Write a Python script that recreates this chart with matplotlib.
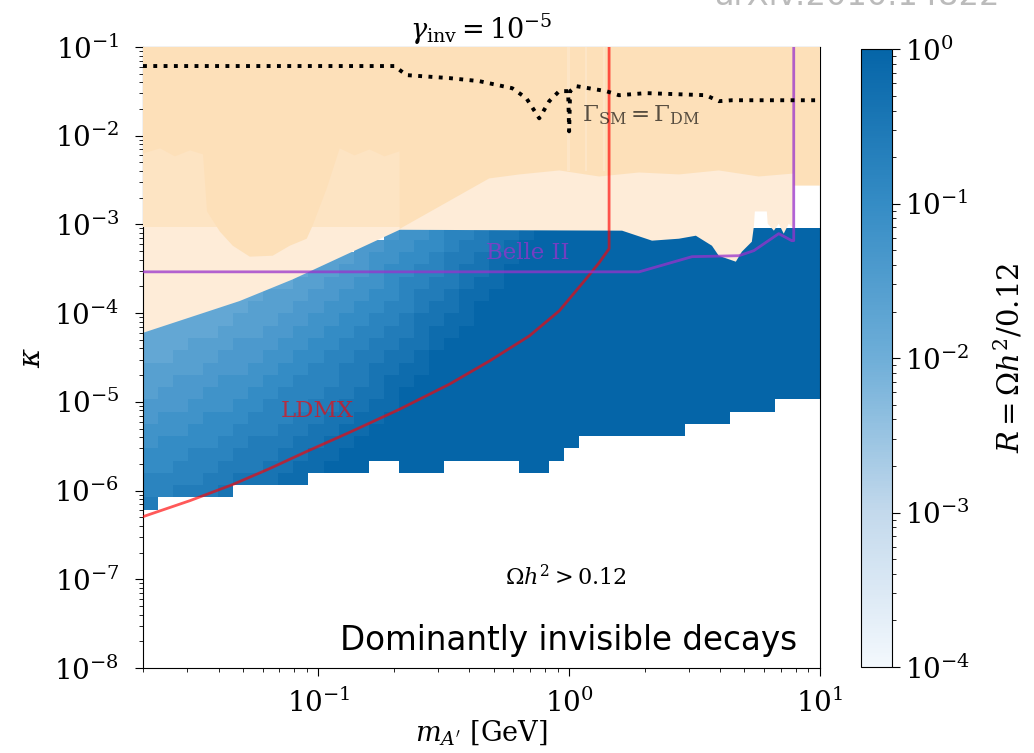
import numpy as np
import matplotlib
matplotlib.use("Agg")
import matplotlib.pyplot as plt
from matplotlib.colors import LogNorm, LinearSegmentedColormap

plt.rcParams['font.family'] = 'DejaVu Serif'
plt.rcParams['mathtext.fontset'] = 'dejavuserif'

# scan grid in dark photon mass [GeV] and kinetic mixing
m_edges = np.logspace(np.log10(0.02), 1.0, 46)
kappa_edges = 10 ** (-6.215 + 0.1382 * np.arange(24))

# R = Omega h^2 / 0.12 per cell, top row first
# digit d -> log10 R = -1.8 + 0.2 d ; '.' = no point in the scan
R_rows = [
    "................" "2334556778" "9999999999999999999",
    ".............." "22334456678" "99999999999999999999",
    "............" "1123344566788" "99999999999999999999",
    ".........." "01122344556778" "999999999999999999999",
    "........" "0011223345566788" "999999999999999999999",
    "......" "00111223344566788" "9999999999999999999999",
    "...." "000111223344556778" "99999999999999999999999",
    "." "000001112233445567788" "99999999999999999999999",
    "000001112233445566788" "999999999999999999999999",
    "00011122233445566778" "9999999999999999999999999",
    "0011122233445566778" "99999999999999999999999999",
    "1111222334455667788" "99999999999999999999999999",
    "112223334455566788" "999999999999999999999999999",
    "12223334455566778" "9999999999999999999999999999",
    "22233344555667788" "9999999999999999999999999" "...",
    "2333444555667788" "99999999999999999999999" "......",
    "333444555667788" "999999999999999999999" ".........",
    "34444556667788" "999999999999999" "................",
    "4445556667788" "999999999999999" ".................",
    "445556667788" "999..999.....99" "..................",
    "55556677788" "..................................",
    "556667" ".......................................",
    "6" "............................................",
]
assert all(len(r) == 45 for r in R_rows), [len(r) for r in R_rows]

# excluded regions (outer envelope, band below the beam dumps, upper region)
excl_low_m = [0.02, 0.0486, 0.079, 0.211, 1.626, 2.14, 2.74, 3.20, 3.71, 3.95,
              4.62, 4.88, 5.35, 5.45, 5.50, 6.14, 6.19, 6.55, 6.85, 7.17,
              7.51, 7.86, 7.86, 10.0, 10.0, 0.02]
excl_low_k = [6.0e-5, 1.37e-4, 2.4e-4, 8.7e-4, 8.5e-4, 6.56e-4, 6.9e-4, 7.46e-4,
              5.75e-4, 4.43e-4, 3.8e-4, 4.92e-4, 6.38e-4, 9.45e-4, 1.4e-3,
              1.4e-3, 1.02e-3, 8.5e-4, 1.02e-3, 7.87e-4, 1.02e-3, 8.96e-4,
              2.75e-3, 2.75e-3, 0.1, 0.1]

excl_mid_m = [0.02, 0.211, 0.211, 0.02]
excl_mid_k = [9.45e-4, 9.45e-4, 0.1, 0.1]

excl_top_m = [0.02, 0.0234, 0.0268, 0.0308, 0.0347, 0.0360, 0.0405, 0.0456,
              0.0533, 0.0658, 0.0769, 0.0899, 0.0949, 0.108, 0.118, 0.1216,
              0.1395, 0.160, 0.1837, 0.2107, 0.2110, 0.48, 0.633, 0.913, 1.317,
              1.90, 2.74, 3.95, 5.70, 7.86, 7.87, 10.0, 10.0, 0.02]
excl_top_k = [6.3e-3, 7.2e-3, 5.85e-3, 6.84e-3, 6.16e-3, 1.4e-3, 8.3e-4, 5.75e-4,
              4.33e-4, 4.44e-4, 5.75e-4, 6.9e-4, 9.7e-4, 2.54e-3, 5.5e-3, 7.2e-3,
              6.0e-3, 7.0e-3, 5.85e-3, 6.67e-3, 8.9e-4, 3.3e-3, 3.66e-3, 4.06e-3,
              3.47e-3, 3.85e-3, 3.66e-3, 4.06e-3, 3.47e-3, 3.75e-3, 2.75e-3,
              2.75e-3, 0.1, 0.1]

# narrow gaps in the upper exclusion (mass ranges, GeV)
gap_lo = [0.985, 1.16, 1.37]
gap_hi = [1.010, 1.18, 1.39]

# Gamma_SM = Gamma_DM contour
gam_m = [0.02, 0.201, 0.2246, 0.333, 0.4385, 0.593, 0.675, 0.760, 0.833, 0.913,
         0.991, 1.0, 1.009, 1.067, 1.404, 1.58, 2.026, 3.51, 3.95, 4.456, 10.0]
gam_k = [0.0610, 0.0610, 0.0482, 0.0446, 0.0412, 0.0343, 0.0265, 0.0157, 0.0245,
         0.0318, 0.0318, 0.0112, 0.0318, 0.0362, 0.0318, 0.0286, 0.0302, 0.0286,
         0.0245, 0.0251, 0.0251]

# projected sensitivities
ldmx_m = [0.02, 0.0308, 0.0456, 0.0640, 0.0899, 0.1332, 0.2107, 0.333, 0.4806,
          0.693, 0.913, 1.169, 1.317, 1.443, 1.443]
ldmx_k = [5.08e-7, 7.7e-7, 1.17e-6, 1.77e-6, 2.76e-6, 4.53e-6, 8.24e-6, 1.58e-5,
          2.88e-5, 5.52e-5, 1.06e-4, 2.44e-4, 3.7e-4, 5.32e-4, 0.1]
belle_m = [0.02, 1.90, 3.09, 4.75, 5.45, 6.85, 7.72, 7.86, 7.86]
belle_k = [2.92e-4, 2.92e-4, 4.33e-4, 4.44e-4, 5.06e-4, 7.87e-4, 6.56e-4, 6.56e-4, 0.1]

levels = np.array([[np.nan if ch == '.' else float(ch) for ch in row] for row in R_rows[::-1]])
R = np.ma.masked_invalid(10 ** (-1.8 + 0.2 * levels))

cmap = LinearSegmentedColormap.from_list(
    'rblues', ['#f3f8fd', '#c3d9ec', '#6eaed8', '#358cc5', '#0565a8'])

fig = plt.figure(figsize=(10.34, 7.53), dpi=100)
ax = fig.add_axes([0.1383, 0.1129, 0.6547, 0.8247])
cax = fig.add_axes([0.8327, 0.1142, 0.0300, 0.8207])

mesh = ax.pcolormesh(m_edges, kappa_edges, R, cmap=cmap,
                     norm=LogNorm(vmin=1e-4, vmax=1), zorder=1)

ax.fill(excl_low_m, excl_low_k, color='#feecd8', lw=0, zorder=2)
ax.fill(excl_mid_m, excl_mid_k, color='#fde4c3', lw=0, zorder=3)
ax.fill(excl_top_m, excl_top_k, color='#fde0b9', lw=0, zorder=4)
for lo, hi in zip(gap_lo, gap_hi):
    ax.axvspan(lo, hi, ymin=0.80, ymax=1.0, color='#fde5c6', lw=0, zorder=4.5)

ax.plot(gam_m, gam_k, color='black', ls=':', lw=2.8, zorder=6)
ax.plot(ldmx_m, ldmx_k, color='red', alpha=0.65, lw=2, zorder=5)
ax.plot(belle_m, belle_k, color='darkorchid', alpha=0.75, lw=2, zorder=5)

ax.text(0.0994, 6.7e-6, 'LDMX', color='red', alpha=0.65, fontsize=16.5,
        ha='center', va='baseline', zorder=7)
ax.text(0.687, 4.1e-4, 'Belle II', color='darkorchid', alpha=0.75, fontsize=16.5,
        ha='center', va='baseline', zorder=7)
ax.text(1.935, 0.01455, r'$\Gamma_{\rm SM} = \Gamma_{\rm DM}$', color='black',
        alpha=0.65, fontsize=16.5, ha='center', va='baseline', zorder=7)
ax.text(0.625, 0.134, r'$\Omega h^2 > 0.12$', fontsize=16,
        ha='center', va='baseline', transform=ax.transAxes, zorder=7)
ax.text(0.966, 0.029, 'Dominantly invisible decays', family='DejaVu Sans',
        fontsize=23.5, ha='right', va='baseline', transform=ax.transAxes, zorder=7)

ax.set_xscale('log')
ax.set_yscale('log')
ax.set_xlim(0.02, 10)
ax.set_ylim(1e-8, 1e-1)
ax.tick_params(which='major', labelsize=20, length=6)
ax.tick_params(which='minor', length=3)
ax.tick_params(axis='x', which='major', pad=9)
ax.tick_params(axis='y', which='major', pad=11)
ax.set_xlabel(r"$m_{A'}$ [GeV]", fontsize=19.5, labelpad=0)
ax.set_ylabel(r'$\kappa$', fontsize=21, labelpad=6)
ax.set_title(r'$\gamma_{\rm inv} = 10^{-5}$', fontsize=19.5, pad=5)

cb = fig.colorbar(mesh, cax=cax)
cb.ax.tick_params(which='major', labelsize=20, length=6)
cb.ax.tick_params(which='minor', length=3)
cb.set_label(r'$R = \Omega h^2/0.12$', fontsize=21, labelpad=16)

fig.text(1000 / 1034, 1 - 5 / 753, 'arXiv:2010.14822', family='DejaVu Sans',
         fontsize=23, color='#bbbbbb', ha='right', va='baseline')

fig.savefig('out.png', dpi=100)
